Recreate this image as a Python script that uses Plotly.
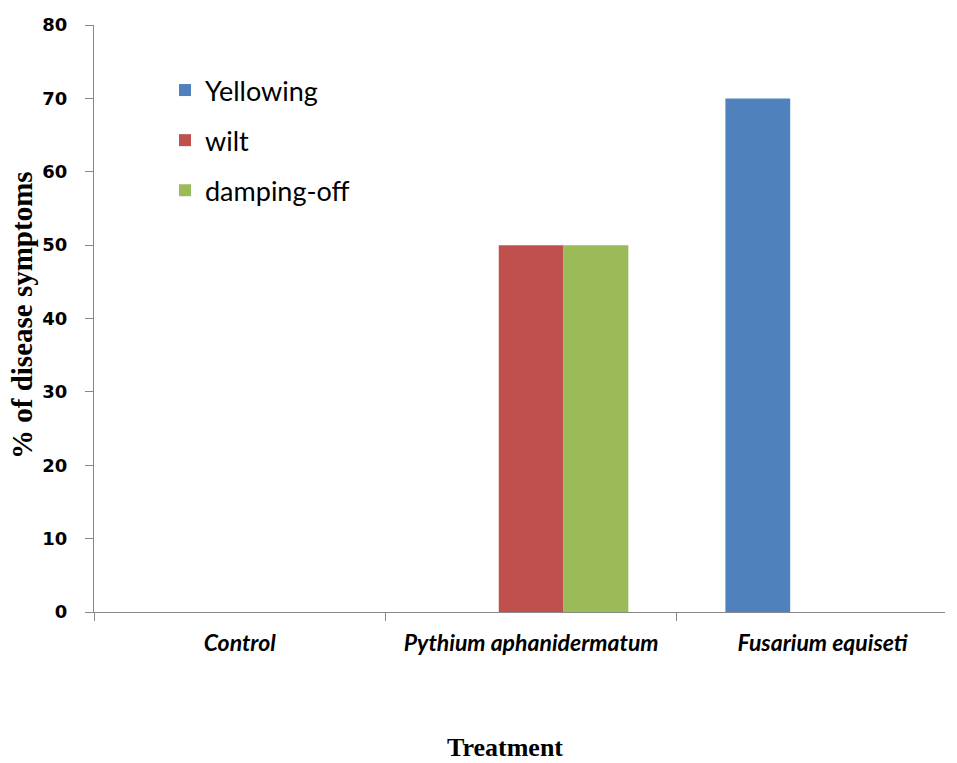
import plotly.graph_objects as go

categories = ["<i>Control</i>", "<i>Pythium aphanidermatum</i>", "<i>Fusarium equiseti</i>"]
yellowing = [0, 0, 70]
wilt = [0, 50, 0]
damping_off = [0, 50, 0]
y_ticks = [0, 10, 20, 30, 40, 50, 60, 70, 80]

fig = go.Figure()
series = [("Yellowing", yellowing, "#4F81BD"),
          ("wilt", wilt, "#C0504D"),
          ("damping-off", damping_off, "#9BBB59")]
for name, vals, col in series:
    fig.add_trace(go.Bar(x=categories, y=vals, name=name, marker_color=col,
                         marker_line_width=0, legendgroup=name))

W, H = 957, 763
L, T = 94, 25
plot_right, plot_bottom = 945, 612
R, B = W - plot_right, H - plot_bottom
pw = W - L - R
ph = H - T - B


def px(xs):
    return (xs - L) / pw


def py(ys):
    return (H - B - ys) / ph


fig.update_layout(
    width=W, height=H,
    paper_bgcolor="white", plot_bgcolor="white",
    margin=dict(l=L, r=R, t=T, b=B, autoexpand=False),
    barmode="group", bargap=0.333, bargroupgap=0,
    showlegend=True,
    legend=dict(x=px(165), y=py(66), xanchor="left", yanchor="top",
                font=dict(family="Lato", size=27, color="black"),
                tracegroupgap=12, itemwidth=30, bgcolor="rgba(0,0,0,0)"),
    xaxis=dict(range=[-0.5, 2.42], showline=True, linecolor="#888888", linewidth=1,
               ticks="outside", tickson="boundaries", ticklen=8, tickcolor="#888888",
               tickfont=dict(family="Lato", size=23, color="black", weight="bold"),
               ticklabelstandoff=10, automargin=False,
               showgrid=False),
    yaxis=dict(range=[0, 80], tickvals=y_ticks, showline=True, linecolor="#888888", linewidth=1,
               ticks="outside", ticklen=8, tickcolor="#888888",
               tickfont=dict(family="DejaVu Sans", size=18, color="black", weight="bold"),
               ticklabelstandoff=14, automargin=False,
               showgrid=False, zeroline=False),
    annotations=[
        dict(text="Treatment", xref="paper", yref="paper",
             x=px(505), y=py(747), xanchor="center", yanchor="middle",
             showarrow=False,
             font=dict(family="Liberation Serif", size=26, color="black", weight="bold")),
        dict(text="% of disease symptoms", xref="paper", yref="paper",
             x=px(22), y=py(315), xanchor="center", yanchor="middle",
             textangle=-90, showarrow=False,
             font=dict(family="Liberation Serif", size=29, color="black", weight="bold")),
    ],
)

fig.write_html("out.html", config={"displayModeBar": False},
               post_script="document.body.style.margin='0px';document.body.style.overflow='hidden';")
